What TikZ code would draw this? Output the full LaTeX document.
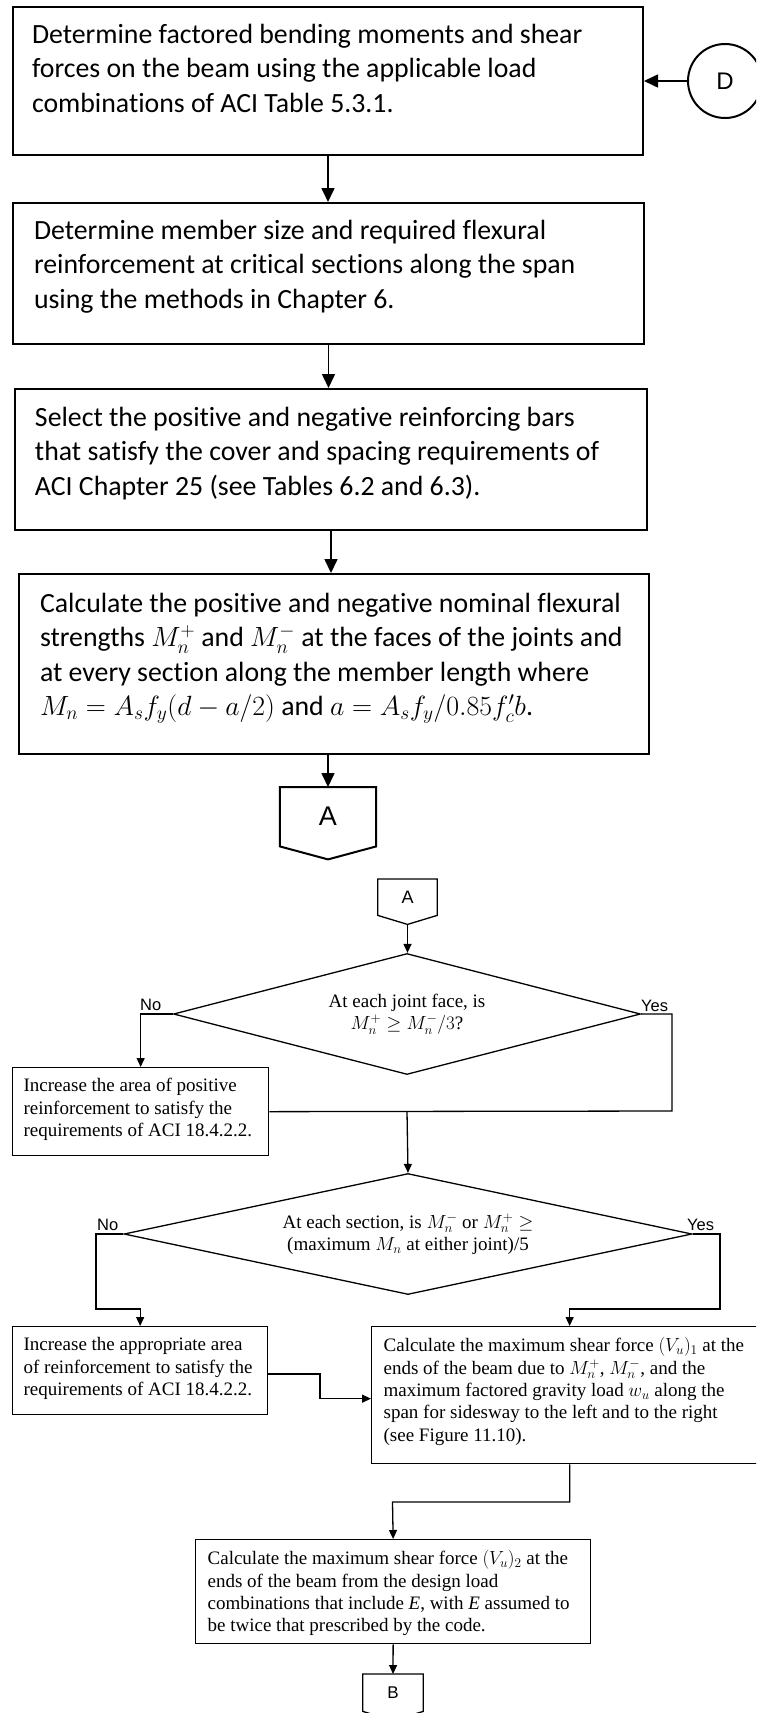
\RequirePackage{fix-cm}
\documentclass[tikz,border=0pt]{standalone}
\usepackage{fontspec}
\setmainfont{Liberation Serif}
\newfontfamily\calibrifont[Ligatures=NoCommon]{Carlito}
\newfontfamily\arialfont{Liberation Sans}
\usetikzlibrary{arrows.meta,calc,shapes.geometric}

% #1 box height, #2 box width, #3 space above first line, #4 left indent, #5 text
\newcommand{\flowtext}[5]{\parbox[c][#1][t]{#2}{\raggedright\leftskip=#4\relax\parindent=0pt\lineskiplimit=-20pt\relax\vspace*{#3}\strut #5}}

\tikzset{
  topbox/.style={draw, line width=2.0, inner sep=0, anchor=north west,
    font=\calibrifont\fontsize{27.8}{34.5}\selectfont},
  lowbox/.style={draw, line width=1.3, inner sep=0, anchor=north west,
    font=\fontsize{19}{22.3}\selectfont},
  toparrow/.style={line width=1.6, -{Triangle[length=14,width=13]}},
  lowline/.style={line width=1.3},
  lowarrow/.style={line width=1.3, -{Triangle[length=9,width=8]}},
  decision/.style={diamond, draw, line width=1.3, inner sep=0, align=center,
    font=\fontsize{19}{22.5}\selectfont},
  answer/.style={font=\arialfont\fontsize{16.5}{16.5}\selectfont, inner sep=0},
  connbody/.style={inner sep=0, anchor=north}
}

\begin{document}
\begin{tikzpicture}[x=1pt, y=-1pt, line join=miter]
\useasboundingbox (0,0) rectangle (756,1713);
\clip (0,0) rectangle (756,1713);

% ---------- upper part ----------
\node[topbox] (b1) at (12,6) {\flowtext{148pt}{630pt}{12pt}{19pt}{Determine factored bending moments and shear\\forces on the beam using the applicable load\\combinations of ACI Table 5.3.1.}};

\node[circle, draw, line width=2.0, minimum size=74, inner sep=0,
  font=\arialfont\fontsize{24}{24}\selectfont] (D) at (725,81) {D};

\node[topbox] (b2) at (12,202) {\flowtext{141pt}{631pt}{12pt}{21pt}{Determine member size and required flexural\\reinforcement at critical sections along the span\\using the methods in Chapter 6.}};

\node[topbox] (b3) at (14,388) {\flowtext{141pt}{632pt}{13pt}{20pt}{Select the positive and negative reinforcing bars\\that satisfy the cover and spacing requirements of\\ACI Chapter 25 (see Tables 6.2 and 6.3).}};

\node[topbox] (b4) at (18,573) {\flowtext{180pt}{630pt}{14pt}{21pt}{Calculate the positive and negative nominal flexural\\strengths $M_n^+$ and $M_n^-$ at the faces of the joints and\\at every section along the member length where\\$M_n = A_s f_y(d-a/2)$ and $a = A_s f_y/0.85f_c'b$.}};

% off-page connector A (outgoing)
\node[connbody, minimum width=96, minimum height=59,
  font=\arialfont\fontsize{27}{27}\selectfont] (A1) at (328,787) {A};
\coordinate (A1tip) at ($(A1.south)+(0,13)$);
\draw[line width=2.0] (A1.north west) -- (A1.north east) -- (A1.south east)
  -- (A1tip) -- (A1.south west) -- cycle;

\draw[toparrow] (D.west) -- (D.west -| b1.east);
\draw[toparrow] (b1.south) -- (b1.south |- b2.north);
\draw[toparrow] (b2.south) -- (b2.south |- b3.north);
\draw[toparrow] (b3.south) -- (b3.south |- b4.north);
\draw[toparrow] (b4.south -| A1.north) -- (A1.north);

% ---------- lower part ----------
\node[connbody, minimum width=59, minimum height=36,
  font=\arialfont\fontsize{18}{18}\selectfont] (A2) at (407.5,879) {A};
\coordinate (A2tip) at ($(A2.south)+(0,9)$);
\draw[lowline] (A2.north west) -- (A2.north east) -- (A2.south east)
  -- (A2tip) -- (A2.south west) -- cycle;

\node[decision, minimum width=467, minimum height=121, aspect=3.9] (d1) at (407,1014)
  {At each joint face, is\\$M_n^+ \geq M_n^-/3$?};

\node[lowbox] (b5) at (12,1067) {\flowtext{88pt}{256pt}{8.6pt}{11pt}{Increase the area of positive\\reinforcement to satisfy the\\requirements of ACI 18.4.2.2.}};

\node[decision, minimum width=568, minimum height=121, aspect=4.7] (d2) at (408,1234)
  {At each section, is $M_n^-$ or $M_n^+ \geq$\\(maximum $M_n$ at either joint)/5};

\node[lowbox] (b6) at (12,1326) {\flowtext{88pt}{255pt}{8.6pt}{11pt}{Increase the appropriate area\\of reinforcement to satisfy the\\requirements of ACI 18.4.2.2.}};

\node[lowbox] (b7) at (371,1326) {\flowtext{137pt}{396pt}{9.6pt}{12pt}{Calculate the maximum shear force $(V_u)_1$ at the\\ends of the beam due to $M_n^+$, $M_n^-$, and the\\maximum factored gravity load $w_u$ along the\\span for sidesway to the left and to the right\\(see Figure 11.10).}};

\node[lowbox] (b8) at (195,1539) {\flowtext{104pt}{395pt}{9.6pt}{12pt}{Calculate the maximum shear force $(V_u)_2$ at the\\ends of the beam from the design load\\combinations that include \textit{E}, with \textit{E} assumed to\\be twice that prescribed by the code.}};

% off-page connector B
\node[connbody, minimum width=60, minimum height=37,
  font=\arialfont\fontsize{17}{17}\selectfont] (B) at (393,1674) {B};
\coordinate (Btip) at ($(B.south)+(0,9)$);
\draw[lowline] (B.north west) -- (B.north east) -- (B.south east)
  -- (Btip) -- (B.south west) -- cycle;

% branch labels
\node[answer, anchor=south west] (no1) at (140,1011) {No};
\node[answer, anchor=south west] (yes1) at (641,1012) {Yes};
\node[answer, anchor=south west] (no2) at (97,1231) {No};
\node[answer, anchor=south west] (yes2) at (687,1231) {Yes};

% routing points
\coordinate (yes1turn) at (672,1111);
\coordinate (merge1) at (407,1111);
\coordinate (no2turn) at (96,1309);
\coordinate (yes2turn) at (720,1309);
\coordinate (jog) at (320,1374);
\coordinate (mid8) at (392.5,1502);

\draw[lowarrow] (A2tip) -- (A2tip |- d1.north);
\draw[lowarrow] (d1.west) -| (b5.north);
\draw[lowline] (d1.east) -| (yes1turn) -- (b5.east);
\draw[lowarrow] (merge1) -- (d2.north);
\draw[lowarrow] (d2.west) -| (no2turn) -| (b6.north);
\draw[lowarrow] (d2.east) -| (yes2turn) -| (b7.north);
\draw[lowarrow] (b6.east |- jog) -- (jog) |- ([yshift=-3.5pt]b7.west);
\draw[lowarrow] (b7.south) |- (mid8) -- (b8.north);
\draw[lowarrow] (b8.south) -- (B.north);
\end{tikzpicture}
\end{document}
